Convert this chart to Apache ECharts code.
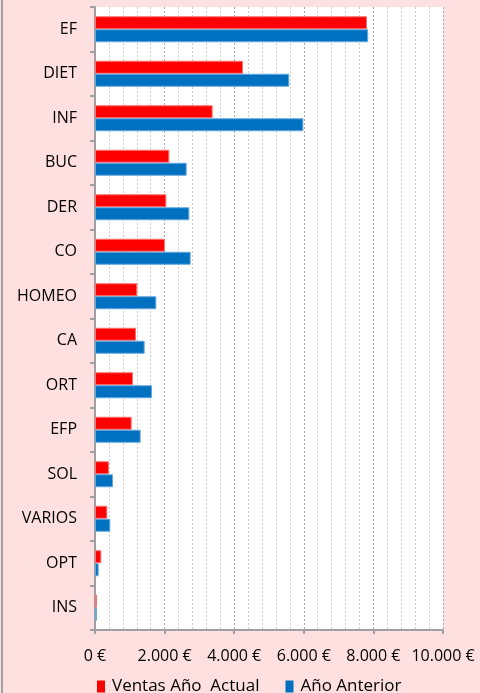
<!DOCTYPE html>
<html>
<head>
<meta charset="utf-8">
<script src="https://cdn.jsdelivr.net/npm/echarts@6/dist/echarts.min.js"></script>
<style>
  html, body { margin: 0; padding: 0; background: #ffe0e0; }
  #chart { width: 480px; height: 693px; }
</style>
</head>
<body>
<div id="chart"></div>
<script>
// categorías y ventas
var categorias = ["EF", "DIET", "INF", "BUC", "DER", "CO", "HOMEO", "CA", "ORT", "EFP", "SOL", "VARIOS", "OPT", "INS"];
var ventasActual = [7816, 4253, 3381, 2136, 2050, 2011, 1216, 1178, 1092, 1053, 402, 354, 182, 57];
var anioAnterior = [7850, 5583, 5987, 2634, 2711, 2749, 1762, 1427, 1638, 1312, 517, 440, 105, 57];
var nombres = ["Ventas Año  Actual", "Año Anterior"];

(function () {
  var myChart = echarts.init(document.getElementById('chart'));

  // 10000 -> "10.000 €"
  function euros(v) {
    return String(v).replace(/\B(?=(\d{3})+(?!\d))/g, ".") + " €";
  }

  var option = {
    backgroundColor: "#ffe0e0",
    color: ["#ff0000", "#0070c0"],
    textStyle: { fontFamily: "Open Sans" },
    graphic: [
      {
        type: "line",
        shape: { x1: 2, y1: 0, x2: 2, y2: 693 },
        style: { stroke: "#a0a0a0", lineWidth: 2 }
      }
    ],
    legend: {
      data: nombres,
      left: 92,
      top: 673,
      icon: "rect",
      itemWidth: 8,
      itemHeight: 12,
      itemGap: 26,
      itemStyle: { borderWidth: 0 },
      textStyle: { color: "#000", fontSize: 17, fontFamily: "Open Sans", padding: [0, 0, 0, 2] }
    },
    grid: {
      left: 95,
      right: 37,
      top: 7,
      bottom: 63,
      show: true,
      backgroundColor: "#ffffff",
      borderWidth: 0
    },
    xAxis: {
      type: "value",
      min: 0,
      max: 10000,
      interval: 2000,
      axisLine: { show: true, lineStyle: { color: "#a0a0a0", width: 2 } },
      axisTick: { show: true, length: 4, lineStyle: { color: "#a0a0a0", width: 2 } },
      axisLabel: {
        color: "#000",
        fontSize: 16,
        margin: 18,
        formatter: euros
      },
      splitLine: { lineStyle: { color: "#a8a8a8", type: [2, 2], width: 1 } },
      minorTick: { show: false, splitNumber: 5 },
      minorSplitLine: { show: true, lineStyle: { color: "#cccccc", type: [2, 2], width: 1 } }
    },
    yAxis: {
      type: "category",
      data: categorias,
      inverse: true,
      axisLine: { lineStyle: { color: "#a0a0a0", width: 2 } },
      axisTick: { show: true, length: 5, lineStyle: { color: "#a0a0a0", width: 2 } },
      axisLabel: { color: "#000", fontSize: 16, margin: 18 }
    },
    series: [
      {
        name: nombres[0],
        type: "bar",
        data: ventasActual,
        barWidth: 13,
        barGap: "0%",
        itemStyle: { borderColor: "#ff7070", borderWidth: 1 }
      },
      {
        name: nombres[1],
        type: "bar",
        data: anioAnterior,
        barWidth: 13,
        barGap: "0%",
        itemStyle: { borderColor: "#66a8dd", borderWidth: 1 }
      }
    ]
  };

  myChart.setOption(option);
})();
</script>
</body>
</html>
